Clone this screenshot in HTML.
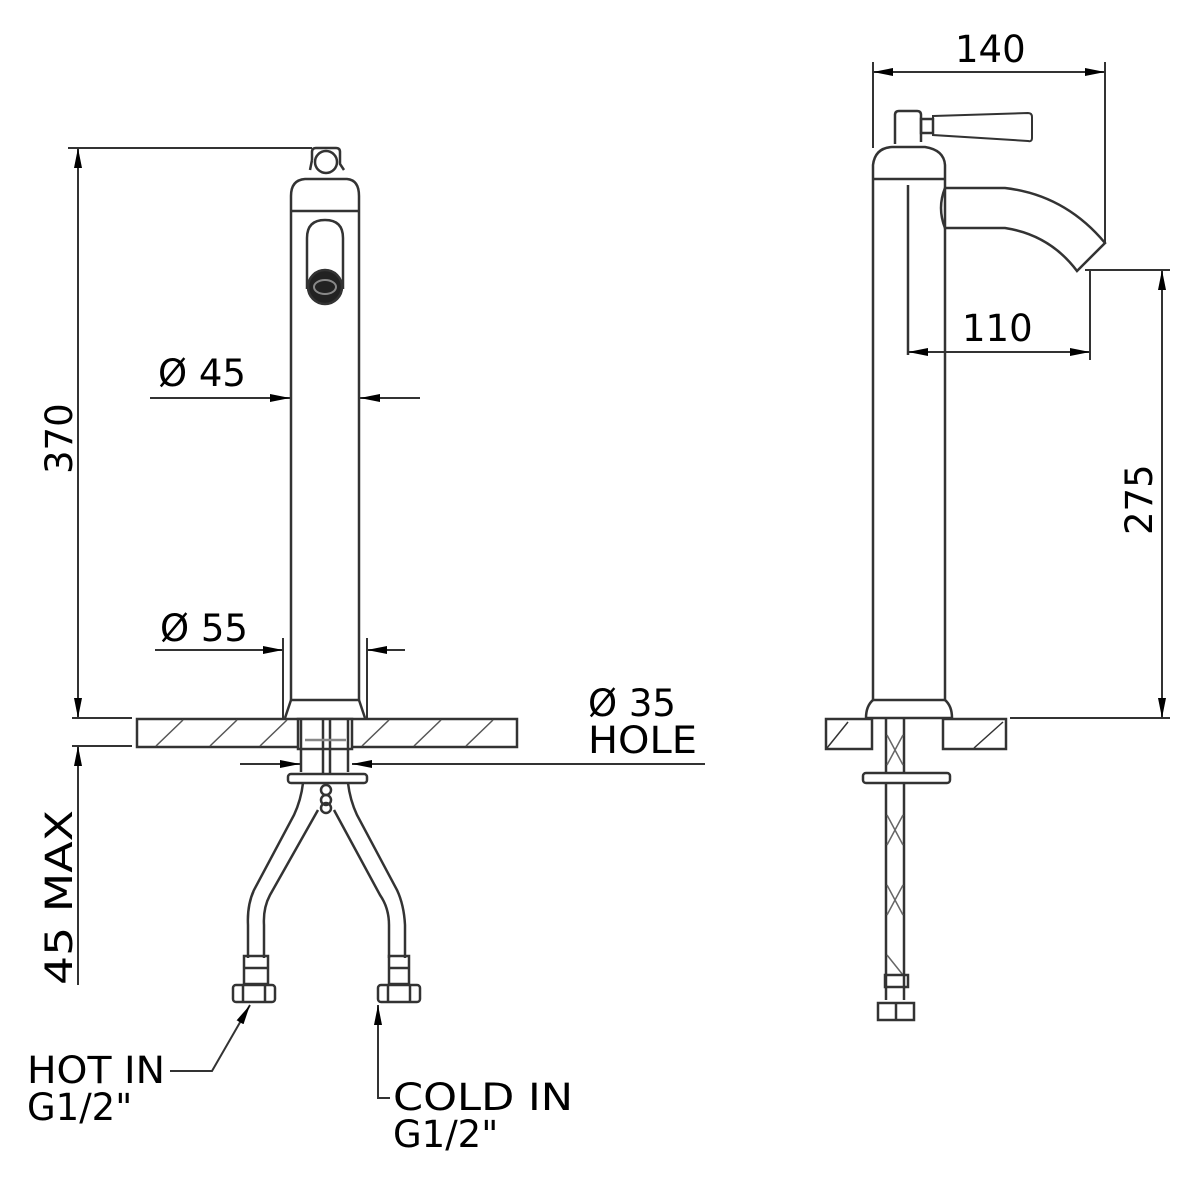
<!DOCTYPE html>
<html><head><meta charset="utf-8"><style>html,body{margin:0;padding:0;background:#fff}svg{display:block}text{font-family:"DejaVu Sans","Liberation Sans",sans-serif;fill:#000}</style></head><body>
<svg width="1200" height="1200" viewBox="0 0 1200 1200" xmlns="http://www.w3.org/2000/svg">
<defs>
<marker id="a" viewBox="0 0 20 8" refX="20" refY="4" markerWidth="20" markerHeight="8" markerUnits="userSpaceOnUse" orient="auto-start-reverse"><path d="M0,0 L20,4 L0,8 Z" fill="#000"/></marker>
</defs>
<g fill="none" stroke="#333" stroke-width="2.5">
<line x1="68" y1="148" x2="312" y2="148" stroke-width="2"/>
<line x1="78" y1="148" x2="78" y2="718" stroke-width="2" marker-start="url(#a)" marker-end="url(#a)"/>
<line x1="72" y1="718" x2="132" y2="718" stroke-width="2"/>
<line x1="72" y1="746" x2="132" y2="746" stroke-width="2"/>
<line x1="78" y1="746" x2="78" y2="985" stroke-width="2" marker-start="url(#a)"/>
<path d="M312,160 L312,152 Q312,148 316,148 L336,148 Q340,148 340,152 L340,164 L344,170"/>
<path d="M312,160 L310,170"/>
<circle cx="326" cy="162" r="11"/>
<path d="M291,700 L291,196 Q291,180 305,179 L347,179 Q359,180 359,196 L359,700"/>
<line x1="291" y1="211" x2="359" y2="211"/>
<path d="M307,289 L307,238 Q307,220 325,220 Q343,220 343,238 L343,289"/>
<circle cx="325" cy="287" r="17" fill="#222"/>
<ellipse cx="325" cy="287" rx="11" ry="7" stroke="#888" stroke-width="2"/>
<line x1="291" y1="700" x2="359" y2="700"/>
<path d="M291,700 L285,718 M359,700 L365,718"/>
<rect x="137" y="719" width="380" height="28"/>
<g stroke-width="1.5" stroke="#555"><line x1="156" y1="746" x2="183" y2="720"/><line x1="210" y1="746" x2="237" y2="720"/><line x1="260" y1="746" x2="287" y2="720"/><line x1="362" y1="746" x2="389" y2="720"/><line x1="414" y1="746" x2="441" y2="720"/><line x1="466" y1="746" x2="493" y2="720"/></g>
<rect x="298" y="719" width="54" height="30" fill="#fff"/>
<line x1="301" y1="719" x2="301" y2="772"/><line x1="348" y1="719" x2="348" y2="772"/>
<line x1="323" y1="719" x2="323" y2="774"/><line x1="330" y1="719" x2="330" y2="774"/>
<line x1="305" y1="740" x2="346" y2="740" stroke="#888"/>
<rect x="288" y="774" width="79" height="9" rx="3"/>
<circle cx="326" cy="790" r="5"/><circle cx="326" cy="800" r="5"/><circle cx="326" cy="808" r="5"/>
<path d="M303,783 Q301,800 294,815 L254,890 Q247,905 248,925 L248,958"/>
<path d="M318,810 L270,895 Q263,908 264,925 L264,958"/>
<path d="M348,783 Q350,800 357,815 L397,890 Q404,905 405,925 L405,958"/>
<path d="M334,810 L380,895 Q389,908 389,925 L389,958"/>
<rect x="244" y="956" width="24" height="28"/><line x1="244" y1="968" x2="268" y2="968"/>
<rect x="233" y="985" width="42" height="17" rx="3"/><line x1="243" y1="985" x2="243" y2="1002"/><line x1="265" y1="985" x2="265" y2="1002"/>
<rect x="389" y="956" width="20" height="28"/><line x1="389" y1="968" x2="409" y2="968"/>
<rect x="378" y="985" width="42" height="17" rx="3"/><line x1="388" y1="985" x2="388" y2="1002"/><line x1="410" y1="985" x2="410" y2="1002"/>
<line x1="150" y1="398" x2="290" y2="398" stroke-width="2" marker-end="url(#a)"/>
<line x1="420" y1="398" x2="360" y2="398" stroke-width="2" marker-end="url(#a)"/>
<line x1="283" y1="638" x2="283" y2="718" stroke-width="2"/><line x1="367" y1="638" x2="367" y2="718" stroke-width="2"/>
<line x1="155" y1="650" x2="283" y2="650" stroke-width="2" marker-end="url(#a)"/>
<line x1="405" y1="650" x2="367" y2="650" stroke-width="2" marker-end="url(#a)"/>
<line x1="240" y1="764" x2="300" y2="764" stroke-width="2" marker-end="url(#a)"/>
<line x1="705" y1="764" x2="352" y2="764" stroke-width="2" marker-end="url(#a)"/>
<polyline points="170,1071 212,1071 250,1005" stroke-width="2" marker-end="url(#a)"/>
<polyline points="390,1098 378,1098 378,1005" stroke-width="2" marker-end="url(#a)"/>

<line x1="873" y1="62" x2="873" y2="148" stroke-width="2"/>
<line x1="1105" y1="62" x2="1105" y2="243" stroke-width="2"/>
<line x1="873" y1="72" x2="1105" y2="72" stroke-width="2" marker-start="url(#a)" marker-end="url(#a)"/>
<path d="M895,144 L895,115 Q895,111 899,111 L917,111 Q921,111 921,115 L921,142"/>
<rect x="921" y="119" width="12" height="14"/>
<path d="M933,116 L1028,113 Q1032,113 1032,117 L1032,138 Q1032,142 1028,141 L933,135 Z" stroke-width="2"/>
<path d="M873,700 L873,165 Q875,148 892,147 L925,147 Q944,150 945,165 L945,700"/>
<line x1="873" y1="179" x2="945" y2="179"/>
<line x1="908" y1="185" x2="908" y2="355"/>
<path d="M945,188 L1005,188 Q1065,195 1105,243 L1077,271 Q1050,235 1005,228 L945,228 Q937,208 945,188"/>
<line x1="1090" y1="270" x2="1090" y2="360" stroke-width="2"/>
<line x1="908" y1="352" x2="1090" y2="352" stroke-width="2" marker-start="url(#a)" marker-end="url(#a)"/>
<line x1="1085" y1="270" x2="1170" y2="270" stroke-width="2"/>
<line x1="1010" y1="718" x2="1170" y2="718" stroke-width="2"/>
<line x1="1162" y1="270" x2="1162" y2="718" stroke-width="2" marker-start="url(#a)" marker-end="url(#a)"/>
<line x1="873" y1="700" x2="945" y2="700"/>
<path d="M873,700 Q866,706 866,718 M945,700 Q952,706 952,718"/>
<line x1="866" y1="718" x2="952" y2="718"/>
<rect x="826" y="719" width="46" height="30"/>
<line x1="827" y1="748" x2="848" y2="722" stroke-width="1.5"/>
<rect x="943" y="719" width="63" height="30"/>
<line x1="974" y1="748" x2="1003" y2="722" stroke-width="1.5"/>
<line x1="886" y1="719" x2="886" y2="1000"/><line x1="904" y1="719" x2="904" y2="1000"/>
<g stroke="#666" stroke-width="1.5"><path d="M887,735 L903,765 M903,735 L887,765 M887,815 L903,845 M903,815 L887,845 M887,885 L903,915 M903,885 L887,915 M887,955 L903,975"/></g>
<rect x="863" y="773" width="87" height="10" rx="3" fill="#fff"/>
<rect x="885" y="975" width="23" height="12"/>
<rect x="878" y="1003" width="36" height="17"/><line x1="896" y1="1003" x2="896" y2="1020"/>
</g>
<g font-size="37">
<text x="955" y="62">140</text>
<text x="962" y="341">110</text>
<text x="158" y="386">Ø 45</text>
<text x="160" y="641">Ø 55</text>
<text x="588" y="716">Ø 35</text>
<text x="588" y="753" textLength="109" lengthAdjust="spacingAndGlyphs">HOLE</text>
<text x="27" y="1083" textLength="138" lengthAdjust="spacingAndGlyphs">HOT IN</text>
<text x="27" y="1120">G1/2"</text>
<text x="393" y="1110" textLength="180" lengthAdjust="spacingAndGlyphs">COLD IN</text>
<text x="393" y="1147">G1/2"</text>
<text transform="translate(72,474) rotate(-90)">370</text>
<text transform="translate(72,985) rotate(-90)" textLength="175" lengthAdjust="spacingAndGlyphs">45  MAX</text>
<text transform="translate(1152,535) rotate(-90)">275</text>
</g>
</svg>
</body></html>
